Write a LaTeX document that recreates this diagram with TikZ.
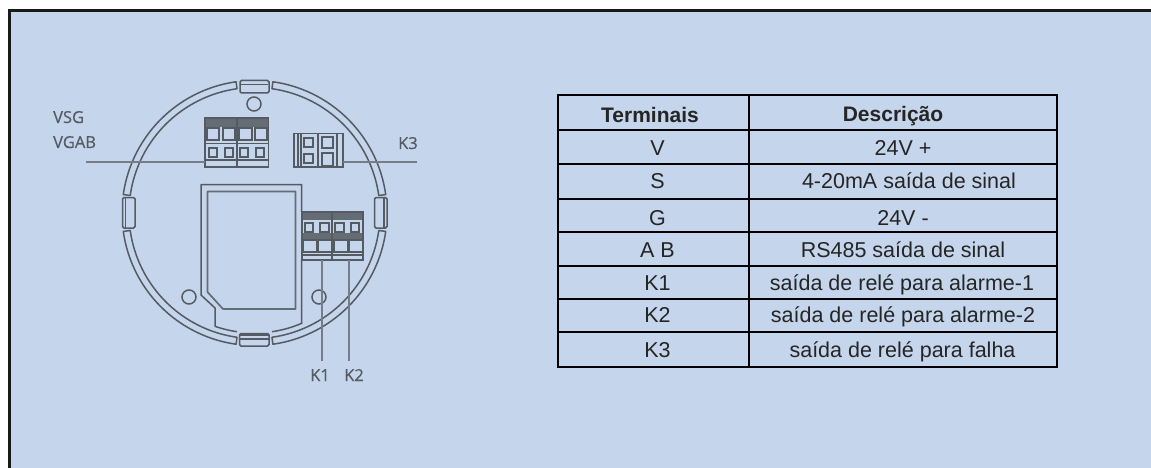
\documentclass[tikz,border=0pt]{standalone}
\usepackage{fontspec}
\setmainfont{Liberation Sans}
\newfontfamily\lblfont[RawFeature={embolden=0.5}]{Open Sans}
\definecolor{panel}{HTML}{C5D5EB}
\definecolor{hw}{HTML}{555B62}
\definecolor{hwband}{HTML}{666C73}
\definecolor{leader}{HTML}{767D86}
\definecolor{lbl}{HTML}{555B63}
\definecolor{ink}{HTML}{252525}
\tikzset{
  hwline/.style={draw=hw,line width=1.5pt},
  thinhw/.style={draw=hw,line width=1.1pt},
  band/.style={fill=hwband,draw=none},
  leaderline/.style={draw=leader,line width=1.2pt},
  grid/.style={draw=black,line width=2pt},
  tcell/.style={anchor=base,inner sep=0pt,text=ink,font=\fontsize{21.5}{23}\selectfont},
  thead/.style={tcell,font=\fontsize{21}{23}\selectfont\bfseries},
  dlabel/.style={anchor=base west,inner sep=0pt,text=lbl,font=\lblfont\fontsize{16.5}{18}\selectfont},
  dlabelc/.style={dlabel,anchor=base},
}
\newcommand{\ringseg}[2]{%
  \draw[hwline,line join=round]
    plot[domain=#1:#2,samples=50] ({254.5+132.5*cos(\x)},{213-132.5*sin(\x)})
    -- plot[domain=#2:#1,samples=50] ({254.5+125.5*cos(\x)},{213-125.5*sin(\x)}) -- cycle;}
\begin{document}
\begin{tikzpicture}[x=1pt,y=-1pt]
\useasboundingbox (0,0) rectangle (1151,468);
\fill[white] (0,0) rectangle (1151,468);
\fill[panel] (9.5,10.5) rectangle (1151,468);
\draw[black!90,line width=3pt] (9.5,468) -- (9.5,10.5) -- (1151,10.5);

% ring
\ringseg{8}{82}
\ringseg{98}{172}
\ringseg{188}{262}
\ringseg{278}{352}
% tabs
\draw[hwline,rounded corners=1.5pt] (240,80.5) rectangle (269,93);
\draw[thinhw] (241,84.5) -- (268,84.5);
\draw[hwline,rounded corners=1.5pt] (239.5,333.5) rectangle (269,346);
\draw[hw,line width=1.8pt] (240,335) -- (268.5,335);
\draw[thinhw] (240,339) -- (268.5,339);
\draw[hwline,rounded corners=1.5pt] (122.5,197.5) rectangle (135,228);
\draw[thinhw] (125.5,198) -- (125.5,227.5);
\draw[hwline,rounded corners=1.5pt] (374.5,197.5) rectangle (387,228);
\draw[thinhw] (384,198) -- (384,227.5);
% holes
\draw[hwline] (254,104) circle[radius=7];
\draw[hwline] (189,297) circle[radius=7];
\draw[hwline] (319,297) circle[radius=7];

% board window
\draw[hwline,line join=round]
  plot[domain=270-8.4:270-19.2,samples=12] ({254.5+120*cos(\x)},{213-120*sin(\x)})
  -- (215,308) -- (201,295) -- (201,184.5) -- (301.5,184.5) -- (301.5,212);
\draw[hwline,line join=round] (301.5,260) -- (301.5,323.5)
  -- plot[domain=270+23.3:270+8.4,samples=12] ({254.5+120*cos(\x)},{213-120*sin(\x)});
\draw[draw=hwband,line width=1.7pt,line join=round] (207.5,191.5) -- (207.5,292) -- (223,309) -- (295.5,309) -- (295.5,191.5) -- cycle;

% VSG / VGAB block
\fill[band] (205,118) rectangle (268.5,127.5);
\draw[hwline] (205,118) rectangle (268.5,167);
\draw[hw,line width=1.8pt] (237,118) -- (237,167);
\foreach \a/\b in {207/219,223/235,239/252,255/267}{\draw[hwline] (\a,128) rectangle (\b,140);}
\foreach \a/\b in {209/217,225/233,240/248,256/264}{\draw[thinhw] (\a,148) rectangle (\b,157);}
\draw[thinhw] (205,143.5) -- (268.5,143.5);
\draw[thinhw] (205,160) -- (268.5,160);

% K3 block
\draw[hwline] (294,133.5) rectangle (343,167);
\draw[thinhw] (298,133.5) -- (298,167);
\draw[thinhw] (301,133.5) -- (301,167);
\draw[hw,line width=1.8pt] (318,133.5) -- (318,167);
\draw[thinhw] (337,133.5) -- (337,167);
\draw[thinhw] (304,138) rectangle (313,147);
\draw[thinhw] (304,154) rectangle (313,163);
\draw[hwline] (322,137) rectangle (333,148);
\draw[hwline] (322,153) rectangle (333,166);

% K1 / K2 block
\fill[band] (302,212) rectangle (363,220);
\fill[band] (302,233) rectangle (363,239);
\draw[hwline] (302,212) rectangle (363,260);
\draw[hw,line width=1.8pt] (332,212) -- (332,260);
\foreach \a/\b in {305/313,320/329,335/344,351/359}{\draw[thinhw] (\a,223) rectangle (\b,232);}
\foreach \a/\b in {303/317,318/332,334/348,349/363}{\draw[hwline] (\a,240) rectangle (\b,252);}
\draw[thinhw] (302,255) -- (363,255);

% leaders
\coordinate (busL) at (86,162);
\coordinate (busR) at (205,162);
\coordinate (kthreeL) at (343,162);
\coordinate (kthreeR) at (417,162);
\coordinate (koneT) at (322,260);
\coordinate (koneB) at (322,361);
\coordinate (ktwoT) at (349,260);
\coordinate (ktwoB) at (349,361);
\draw[leaderline] (busL) -- (busR);
\draw[leaderline] (kthreeL) -- (kthreeR);
\draw[leaderline] (koneT) -- (koneB);
\draw[leaderline] (ktwoT) -- (ktwoB);

% diagram labels
\node[dlabel] (vsg) at (53,123) {VSG};
\node[dlabel] (vgab) at (53,148) {VGAB};
\node[dlabel] (kthree) at (398,149) {K3};
\node[dlabelc] (kone) at (320,381) {K1};
\node[dlabelc] (ktwo) at (354,381) {K2};

% table grid
\foreach \y in {95,130,164,199,232,266,299,332,367}{\draw[grid] (557,\y) -- (1058,\y);}
\foreach \x in {558,749,1057}{\draw[grid] (\x,94) -- (\x,368);}

% table text
\node[thead] (h1) at (650,123) {Terminais};
\node[thead] (h2) at (893,122) {Descrição};
\node[tcell] (t1) at (657.5,155) {V};
\node[tcell] (d1) at (903,155) {24V +};
\node[tcell] (t2) at (657.5,188) {S};
\node[tcell] (d2) at (909,188) {4-20mA saída de sinal};
\node[tcell] (t3) at (657.5,225) {G};
\node[tcell] (d3) at (903,225) {24V -};
\node[tcell] (t4) at (657.5,257) {A B};
\node[tcell] (d4) at (903,257) {RS485 saída de sinal};
\node[tcell] (t5) at (657.5,290) {K1};
\node[tcell] (d5) at (902,290) {saída de relé para alarme-1};
\node[tcell] (t6) at (657.5,322) {K2};
\node[tcell] (d6) at (903,322) {saída de relé para alarme-2};
\node[tcell] (t7) at (657.5,357) {K3};
\node[tcell] (d7) at (902.5,357) {saída de relé para falha};
\end{tikzpicture}
\end{document}
